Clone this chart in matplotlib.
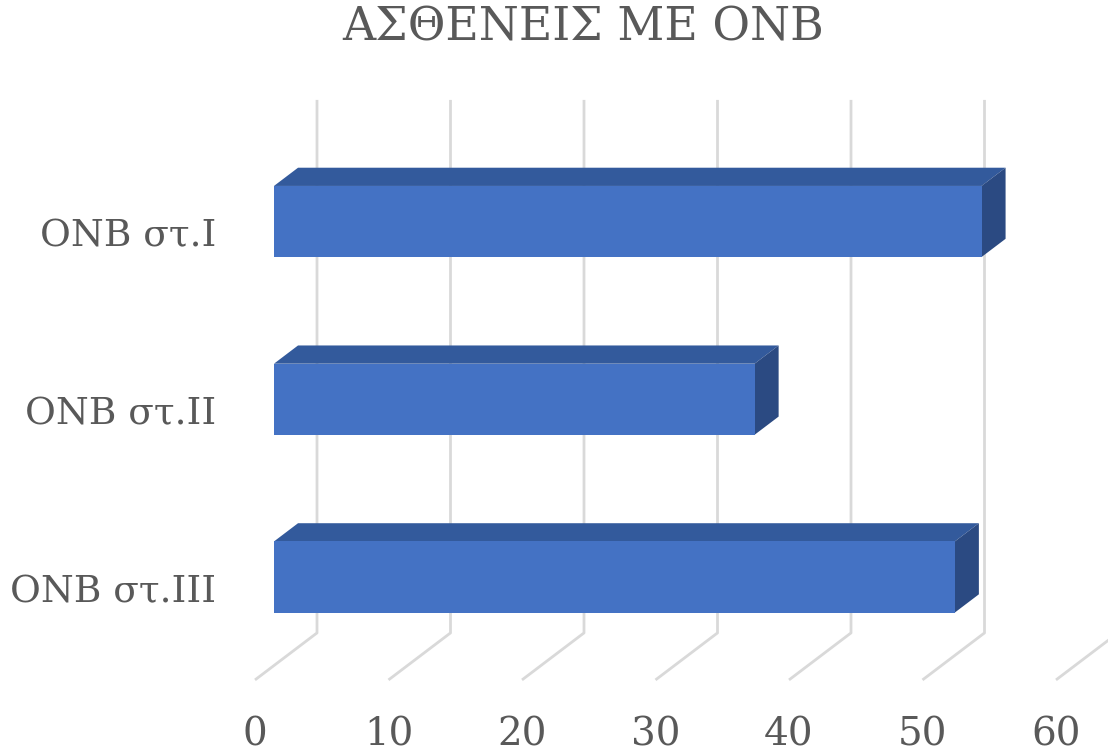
import matplotlib.pyplot as plt
from matplotlib.patches import Polygon

categories = ["ONB στ.I", "ONB στ.II", "ONB στ.III"]
values = [53, 36, 51]
ticks = [0, 10, 20, 30, 40, 50, 60]
title = "ΑΣΘΕΝΕΙΣ ΜΕ ΟΝΒ"

# pseudo-3d geometry (value units on x, category units on y)
px_per_val = 13.35
px_per_cat = 177.75
DX = 62 / px_per_val      # full depth shift in x
DY = 47 / px_per_cat      # full depth shift in y
d0, d1 = 0.306, 0.694     # bar depth range
bar_h = 0.4
floor_y = -2.579          # floor front at depth 0
top_y = 0.684             # top of back gridlines

front_c = '#4472C4'
top_c = '#335A9C'
side_c = '#2B4A82'
grid_c = '#D9D9D9'
text_c = '#595959'

fig = plt.figure(figsize=(11.08, 7.54), dpi=100)
ax = fig.add_axes([0, 0, 1, 1])
ax.set_xlim(-255 / px_per_val, (1108 - 255) / px_per_val)
ax.set_ylim((221.5 - 754) / px_per_cat, 221.5 / px_per_cat)
ax.axis('off')

# gridlines: floor diagonal + back wall vertical
for t in ticks:
    ax.plot([t, t + DX, t + DX], [floor_y, floor_y + DY, top_y],
            color=grid_c, lw=2, zorder=1, solid_capstyle='butt')
    ax.text(t, (221.5 - 734.5) / px_per_cat, str(t), ha='center', va='center',
            fontsize=28, family='DejaVu Serif', color=text_c)

ypos = [-i for i in range(len(categories))]
x0 = d0 * DX
bx = (d1 - d0) * DX
by = (d1 - d0) * DY

ax.barh(ypos, values, left=x0, height=bar_h, color=front_c, zorder=4)
for y, v, name in zip(ypos, values, categories):
    yt = y + bar_h / 2
    yb = y - bar_h / 2
    top = Polygon([(x0, yt), (x0 + v, yt), (x0 + v + bx, yt + by), (x0 + bx, yt + by)],
                  closed=True, facecolor=top_c, edgecolor='none', zorder=3)
    side = Polygon([(x0 + v, yt), (x0 + v + bx, yt + by), (x0 + v + bx, yb + by), (x0 + v, yb)],
                   closed=True, facecolor=side_c, edgecolor='none', zorder=3)
    ax.add_patch(top)
    ax.add_patch(side)
    ax.text(-39 / px_per_val, y - 15 / px_per_cat, name, ha='right', va='center',
            fontsize=27, family='DejaVu Serif', color=text_c)

fig.text(582.7 / 1108, 1 - 28 / 754, title, ha='center', va='center',
         fontsize=33, family='DejaVu Serif', color=text_c)

fig.savefig('out.png', dpi=100)
